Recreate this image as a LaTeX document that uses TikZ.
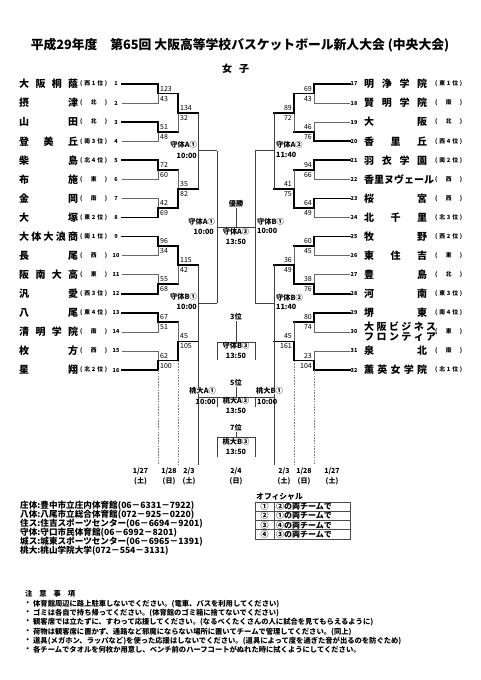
\documentclass[tikz,border=0pt]{standalone}
\usepackage{fontspec}
\setmainfont{Noto Sans CJK JP}
\usetikzlibrary{calc}
\newcommand\teamL[3]{%
  \pgfmathsetmacro\ty{84+(#1-1)*19.07}%
  \coordinate (Lt#1) at (122,\ty);%
  \coordinate (Lv#1) at (158,\ty);%
  \node[team,anchor=west] (LN#1) at (19,\ty) {\hbox to 59pt{#2}};%
  \node[reg,anchor=west] (LR#1) at (80,\ty) {\hbox to 27pt{(\hfill #3\hfill)}};%
  \node[num] (LI#1) at (116,\ty) {#1};%
}
\newcommand\teamR[4]{%
  \pgfmathsetmacro\ty{84+(#1-17)*19.07}%
  \coordinate (Rt#1) at (350,\ty);%
  \coordinate (Rv#1) at (314,\ty);%
  \node[team,anchor=west] (RN#1) at (364,\ty) {\hbox to #4pt{#2}};%
  \node[reg,anchor=west] (RR#1) at (435,\ty) {\hbox to 27pt{(\hfill #3\hfill)}};%
  \node[num] (RI#1) at (354,\ty) {#1};%
}
% winner start, winner corner, loser start, loser corner, junction, out end
\newcommand\duelA[6]{%
  \draw[lose] (#3) -- (#4) -- (#5);
  \draw[win] (#1) -- (#2) -- (#5) -- (#6);
}
% winner point, loser point, junction, out end
\newcommand\duelB[4]{%
  \draw[lose] (#2) -- (#3);
  \draw[win] (#1) -- (#3) -- (#4);
}
\newcommand\scL[4]{%
  \node[score,anchor=west] (#1a) at ($(#2)+(2,-5)$) {#3};
  \node[score,anchor=west] (#1b) at ($(#2)+(2,5)$) {#4};
}
\newcommand\scR[4]{%
  \node[score,anchor=east] (#1a) at ($(#2)+(-2,-5)$) {#3};
  \node[score,anchor=east] (#1b) at ($(#2)+(-2,5)$) {#4};
}
\begin{document}
\begin{tikzpicture}[x=1pt,y=-1pt,
  win/.style={line width=1.8pt,black,line cap=rect},
  lose/.style={line width=0.6pt,black!60},
  open/.style={line width=0.6pt,black!75},
  sep/.style={line width=0.6pt,black!50,dash pattern=on 1.6pt off 1.2pt},
  team/.style={font=\fontsize{10}{10}\selectfont\bfseries,inner sep=0pt},
  reg/.style={font=\fontsize{5.8}{6}\selectfont\bfseries,inner sep=0pt},
  num/.style={font=\fontsize{5.5}{6}\selectfont\bfseries,inner sep=0pt},
  score/.style={font=\fontsize{7}{7}\selectfont,inner sep=0pt},
  lbl/.style={font=\fontsize{7.2}{7.2}\selectfont\bfseries,inner sep=0pt},
  date/.style={font=\fontsize{7}{7}\selectfont\bfseries,inner sep=0pt},
  info/.style={font=\fontsize{8.6}{9}\selectfont\bfseries,inner sep=0pt,anchor=west},
  note/.style={font=\fontsize{7.3}{8}\selectfont\bfseries,inner sep=0pt,anchor=west},
  tbl/.style={line width=0.6pt,black!70}
]
\fill[white] (0,0) rectangle (481,680);
\useasboundingbox (0,0) rectangle (481,680);

% title
\node[font=\fontsize{12.8}{13}\selectfont\bfseries,inner sep=0pt] (T) at (240,45)
  {平成29年度　第65回 大阪高等学校バスケットボール新人大会 (中央大会)};
\node[font=\fontsize{10}{10}\selectfont\bfseries,inner sep=0pt] (G) at (235.5,69)
  {\hbox to 27pt{女\hfill 子}};

% teams left
\teamL{1}{大\hfill 阪\hfill 桐\hfill 蔭}{西\hfill 1\hfill 位}
\teamL{2}{摂\hfill 津}{北}
\teamL{3}{山\hfill 田}{北}
\teamL{4}{登\hfill 美\hfill 丘}{南\hfill 3\hfill 位}
\teamL{5}{柴\hfill 島}{北\hfill 4\hfill 位}
\teamL{6}{布\hfill 施}{東}
\teamL{7}{金\hfill 岡}{南}
\teamL{8}{大\hfill 塚}{東\hfill 2\hfill 位}
\teamL{9}{大\hfill 体\hfill 大\hfill 浪\hfill 商}{南\hfill 1\hfill 位}
\teamL{10}{長\hfill 尾}{西}
\teamL{11}{阪\hfill 南\hfill 大\hfill 高}{東}
\teamL{12}{汎\hfill 愛}{西\hfill 3\hfill 位}
\teamL{13}{八\hfill 尾}{東\hfill 4\hfill 位}
\teamL{14}{清\hfill 明\hfill 学\hfill 院}{南}
\teamL{15}{枚\hfill 方}{西}
\teamL{16}{星\hfill 翔}{北\hfill 2\hfill 位}

% teams right
\teamR{17}{明\hfill 浄\hfill 学\hfill 院}{東\hfill 1\hfill 位}{63}
\teamR{18}{賢\hfill 明\hfill 学\hfill 院}{南}{63}
\teamR{19}{大\hfill 阪}{北}{63}
\teamR{20}{香\hfill 里\hfill 丘}{西\hfill 4\hfill 位}{63}
\teamR{21}{羽\hfill 衣\hfill 学\hfill 園}{南\hfill 2\hfill 位}{63}
\teamR{22}{香\hfill 里\hfill ヌ\hfill ヴ\hfill ェ\hfill ー\hfill ル}{西}{68}
\teamR{23}{桜\hfill 宮}{西}{63}
\teamR{24}{北\hfill 千\hfill 里}{北\hfill 3\hfill 位}{63}
\teamR{25}{牧\hfill 野}{西\hfill 2\hfill 位}{63}
\teamR{26}{東\hfill 住\hfill 吉}{東}{63}
\teamR{27}{豊\hfill 島}{北}{63}
\teamR{28}{河\hfill 南}{東\hfill 3\hfill 位}{63}
\teamR{29}{堺\hfill 東}{南\hfill 4\hfill 位}{63}
\teamR{30}{\vbox{\baselineskip=10pt\lineskiplimit=-10pt\hbox to 72pt{大\hfill 阪\hfill ビ\hfill ジ\hfill ネ\hfill ス}\hbox to 72pt{フ\hfill ロ\hfill ン\hfill テ\hfill ィ\hfill ア}}}{東}{72}
\teamR{31}{泉\hfill 北}{南}{63}
\teamR{32}{薫\hfill 英\hfill 女\hfill 学\hfill 院}{北\hfill 1\hfill 位}{63}

% bracket coordinates
\foreach \k in {1,...,8}{
  \pgfmathsetmacro\my{84+(2*\k-1.5)*19.07}
  \coordinate (Lm\k) at (158,\my);
  \coordinate (LmE\k) at (178,\my);
  \coordinate (Rm\k) at (314,\my);
  \coordinate (RmE\k) at (294,\my);
}
\foreach \j in {1,...,4}{
  \pgfmathsetmacro\ny{84+(4*\j-2.5)*19.07}
  \coordinate (Ln\j) at (178,\ny);
  \coordinate (LnE\j) at (198,\ny);
  \coordinate (Rn\j) at (294,\ny);
  \coordinate (RnE\j) at (274,\ny);
}
\foreach \p in {1,2}{
  \pgfmathsetmacro\qy{84+(8*\p-4.5)*19.07}
  \coordinate (Lq\p) at (198,\qy);
  \coordinate (LqE\p) at (217,\qy);
  \coordinate (Rq\p) at (274,\qy);
  \coordinate (RqE\p) at (255,\qy);
}
\coordinate (LS) at (217,227);
\coordinate (RS) at (255,227);
\coordinate (F) at (236,227);

% left round 1
\duelA{Lt1}{Lv1}{Lt2}{Lv2}{Lm1}{LmE1}
\duelA{Lt3}{Lv3}{Lt4}{Lv4}{Lm2}{LmE2}
\duelA{Lt5}{Lv5}{Lt6}{Lv6}{Lm3}{LmE3}
\duelA{Lt8}{Lv8}{Lt7}{Lv7}{Lm4}{LmE4}
\duelA{Lt9}{Lv9}{Lt10}{Lv10}{Lm5}{LmE5}
\duelA{Lt12}{Lv12}{Lt11}{Lv11}{Lm6}{LmE6}
\duelA{Lt13}{Lv13}{Lt14}{Lv14}{Lm7}{LmE7}
\duelA{Lt16}{Lv16}{Lt15}{Lv15}{Lm8}{LmE8}
% left round 2
\duelB{LmE1}{LmE2}{Ln1}{LnE1}
\duelB{LmE4}{LmE3}{Ln2}{LnE2}
\duelB{LmE5}{LmE6}{Ln3}{LnE3}
\duelB{LmE8}{LmE7}{Ln4}{LnE4}
% right round 1
\duelA{Rt17}{Rv17}{Rt18}{Rv18}{Rm1}{RmE1}
\duelA{Rt20}{Rv20}{Rt19}{Rv19}{Rm2}{RmE2}
\duelA{Rt21}{Rv21}{Rt22}{Rv22}{Rm3}{RmE3}
\duelA{Rt23}{Rv23}{Rt24}{Rv24}{Rm4}{RmE4}
\duelA{Rt25}{Rv25}{Rt26}{Rv26}{Rm5}{RmE5}
\duelA{Rt28}{Rv28}{Rt27}{Rv27}{Rm6}{RmE6}
\duelA{Rt29}{Rv29}{Rt30}{Rv30}{Rm7}{RmE7}
\duelA{Rt32}{Rv32}{Rt31}{Rv31}{Rm8}{RmE8}
% right round 2
\duelB{RmE1}{RmE2}{Rn1}{RnE1}
\duelB{RmE4}{RmE3}{Rn2}{RnE2}
\duelB{RmE6}{RmE5}{Rn3}{RnE3}
\duelB{RmE8}{RmE7}{Rn4}{RnE4}

% quarterfinals, semifinals, final
\draw[open] (LnE1) -- (LnE2);
\draw[open] (Lq1) -- (LqE1);
\draw[open] (LnE3) -- (LnE4);
\draw[open] (Lq2) -- (LqE2);
\draw[open] (LqE1) -- (LqE2);
\draw[open] (RnE1) -- (RnE2);
\draw[open] (Rq1) -- (RqE1);
\draw[open] (RnE3) -- (RnE4);
\draw[open] (Rq2) -- (RqE2);
\draw[open] (RqE1) -- (RqE2);
\draw[open] (LS) -- (RS);

% column separators
\coordinate (LB1) at (158,465);
\coordinate (LB2) at (178,465);
\coordinate (LB3) at (198,465);
\coordinate (RB1) at (314,465);
\coordinate (RB2) at (294,465);
\coordinate (RB3) at (274,465);
\draw[sep] (Lv16) -- (LB1);
\draw[sep] (LmE8) -- (LB2);
\draw[open] (LnE4) -- (LB3);
\draw[sep] (Rv32) -- (RB1);
\draw[sep] (RmE8) -- (RB2);
\draw[open] (RnE4) -- (RB3);

% placement boxes
\coordinate (P3L) at (217,342); \coordinate (P3R) at (255,342);
\coordinate (P3Ld) at (217,360); \coordinate (P3Rd) at (255,360);
\coordinate (P3C) at (236,342);
\coordinate (P5L) at (198,397); \coordinate (P5R) at (274,397);
\coordinate (P5a) at (217,397); \coordinate (P5ad) at (217,407);
\coordinate (P5b) at (255,397); \coordinate (P5bd) at (255,407);
\coordinate (P5C) at (236,397);
\coordinate (P7L) at (217,437); \coordinate (P7R) at (255,437);
\coordinate (P7Ld) at (217,457); \coordinate (P7Rd) at (255,457);
\coordinate (P7C) at (236,437);
\draw[open] (P3Ld) -- (P3L) -- (P3R) -- (P3Rd);
\draw[open] (P5L) -- (P5R);
\draw[open] (P5a) -- (P5ad);
\draw[open] (P5b) -- (P5bd);
\draw[open] (P7Ld) -- (P7L) -- (P7R) -- (P7Rd);

% scores
\scL{s1}{Lm1}{123}{43}
\scL{s2}{Lm2}{51}{48}
\scL{s3}{Lm3}{72}{60}
\scL{s4}{Lm4}{42}{69}
\scL{s5}{Lm5}{96}{34}
\scL{s6}{Lm6}{55}{68}
\scL{s7}{Lm7}{67}{51}
\scL{s8}{Lm8}{62}{100}
\scL{t1}{Ln1}{134}{32}
\scL{t2}{Ln2}{35}{82}
\scL{t3}{Ln3}{115}{42}
\scL{t4}{Ln4}{45}{105}
\scR{u1}{Rm1}{69}{43}
\scR{u2}{Rm2}{46}{76}
\scR{u3}{Rm3}{94}{66}
\scR{u4}{Rm4}{64}{49}
\scR{u5}{Rm5}{60}{45}
\scR{u6}{Rm6}{38}{76}
\scR{u7}{Rm7}{80}{74}
\scR{u8}{Rm8}{23}{104}
\scR{v1}{Rn1}{89}{72}
\scR{v2}{Rn2}{41}{75}
\scR{v3}{Rn3}{36}{49}
\scR{v4}{Rn4}{45}{161}

% game labels
\node[lbl,anchor=east] (QA1) at (197,145) {守体A①};
\node[lbl,anchor=east] (QA1t) at (197,156) {10:00};
\node[lbl,anchor=east] (QB1) at (197,297) {守体B①};
\node[lbl,anchor=east] (QB1t) at (197,307) {10:00};
\node[lbl,anchor=east] (SA1) at (215,222) {守体A①};
\node[lbl,anchor=east] (SA1t) at (214,232) {10:00};
\node[lbl,anchor=west] (QA2) at (276,145) {守体A②};
\node[lbl,anchor=west] (QA2t) at (276,155) {11:40};
\node[lbl,anchor=west] (QB2) at (276,298) {守体B②};
\node[lbl,anchor=west] (QB2t) at (276,307) {11:40};
\node[lbl,anchor=west] (SB1) at (257,222) {守体B①};
\node[lbl,anchor=west] (SB1t) at (257,231) {10:00};

\node[lbl] (WIN) at (236,204) {優勝};
\draw[open] (F) -- (WIN.south);
\node[lbl] (FA3) at (236,232) {守体A③};
\node[lbl] (FA3t) at (236,242) {13:50};

\node[lbl] (PL3) at (236,317) {3位};
\draw[open] (P3C) -- (PL3.south);
\node[lbl] (PL3a) at (236,346) {守体B③};
\node[lbl] (PL3t) at (236,356) {13:50};

\node[lbl] (PL5) at (236,383) {5位};
\draw[open] (P5C) -- (PL5.south);
\node[lbl] (PL5a) at (236,401) {桃大A③};
\node[lbl] (PL5t) at (236,411) {13:50};
\node[lbl,anchor=east,fill=white] (CA1) at (216,391) {桃大A①};
\node[lbl,anchor=east] (CA1t) at (216,402) {10:00};
\node[lbl,anchor=west,fill=white] (CB1) at (256,391) {桃大B①};
\node[lbl,anchor=west] (CB1t) at (257,402) {10:00};

\node[lbl] (PL7) at (236,428) {7位};
\draw[open] (P7C) -- (PL7.south);
\node[lbl] (PL7a) at (236,442) {桃大B③};
\node[lbl] (PL7t) at (236,452) {13:50};

% dates
\node[date] (D1) at (140.5,471) {1/27};  \node[date] (D1b) at (140.5,481) {(土)};
\node[date] (D2) at (169,471) {1/28};    \node[date] (D2b) at (169,481) {(日)};
\node[date] (D3) at (189,471) {2/3};     \node[date] (D3b) at (189,481) {(土)};
\node[date] (D4) at (236,471) {2/4};     \node[date] (D4b) at (236,481) {(日)};
\node[date] (D5) at (284,471) {2/3};     \node[date] (D5b) at (284,481) {(土)};
\node[date] (D6) at (304,471) {1/28};    \node[date] (D6b) at (304,481) {(日)};
\node[date] (D7) at (332,471) {1/27};    \node[date] (D7b) at (332,481) {(土)};

% venues
\node[info] (V1) at (20,506) {庄体:豊中市立庄内体育館(06－6331－7922)};
\node[info] (V2) at (20,515) {八体:八尾市立総合体育館(072－925－0220)};
\node[info] (V3) at (20,524) {住ス:住吉スポーツセンター(06－6694－9201)};
\node[info] (V4) at (20,533) {守体:守口市民体育館(06－6992－8201)};
\node[info] (V5) at (20,542) {城ス:城東スポーツセンター(06－6965－1391)};
\node[info] (V6) at (20,551) {桃大:桃山学院大学(072－554－3131)};

% officials table
\node[note,font=\fontsize{7.8}{8}\selectfont\bfseries] (OF) at (256,497) {オフィシャル};
\draw[tbl] (255,502) rectangle (350,539);
\draw[tbl] (255,511.25) -- (350,511.25);
\draw[tbl] (255,520.5) -- (350,520.5);
\draw[tbl] (255,529.75) -- (350,529.75);
\draw[tbl] (274,502) -- (274,539);
\node[lbl,font=\fontsize{8}{8}\selectfont\bfseries] (O1) at (264.5,506.6) {①};
\node[lbl,font=\fontsize{8}{8}\selectfont\bfseries] (O2) at (264.5,515.9) {②};
\node[lbl,font=\fontsize{8}{8}\selectfont\bfseries] (O3) at (264.5,525.1) {③};
\node[lbl,font=\fontsize{8}{8}\selectfont\bfseries] (O4) at (264.5,534.4) {④};
\node[note,font=\fontsize{8}{8}\selectfont\bfseries] (O1t) at (276,506.6) {②の両チームで};
\node[note,font=\fontsize{8}{8}\selectfont\bfseries] (O2t) at (276,515.9) {①の両チームで};
\node[note,font=\fontsize{8}{8}\selectfont\bfseries] (O3t) at (276,525.1) {④の両チームで};
\node[note,font=\fontsize{8}{8}\selectfont\bfseries] (O4t) at (276,534.4) {③の両チームで};

% notes
\node[note] (NH) at (25,594) {\hbox to 50pt{注\hfill 意\hfill 事\hfill 項}};
\node[note] (B1) at (24,604) {・};
\node[note] (B2) at (24,613) {・};
\node[note] (B3) at (24,622) {・};
\node[note] (B4) at (24,632) {・};
\node[note] (B5) at (24,641) {・};
\node[note] (B6) at (24,650) {・};
\node[note] (N1) at (33,604) {体育館周辺に路上駐車しないでください。(電車、バスを利用してください)};
\node[note] (N2) at (33,613) {ゴミは各自で持ち帰ってください。(体育館のゴミ箱に捨てないでください)};
\node[note] (N3) at (33,622) {観客席では立たずに、すわって応援してください。(なるべくたくさんの人に試合を見てもらえるように)};
\node[note] (N4) at (33,632) {荷物は観客席に置かず、通路など邪魔にならない場所に置いてチームで管理してください。(同上)};
\node[note] (N5) at (33,641) {道具(メガホン、ラッパなど)を使った応援はしないでください。(道具によって度を過ぎた音が出るのを防ぐため)};
\node[note] (N6) at (33,650) {各チームでタオルを何枚か用意し、ベンチ前のハーフコートがぬれた時に拭くようにしてください。};
\end{tikzpicture}
\end{document}
